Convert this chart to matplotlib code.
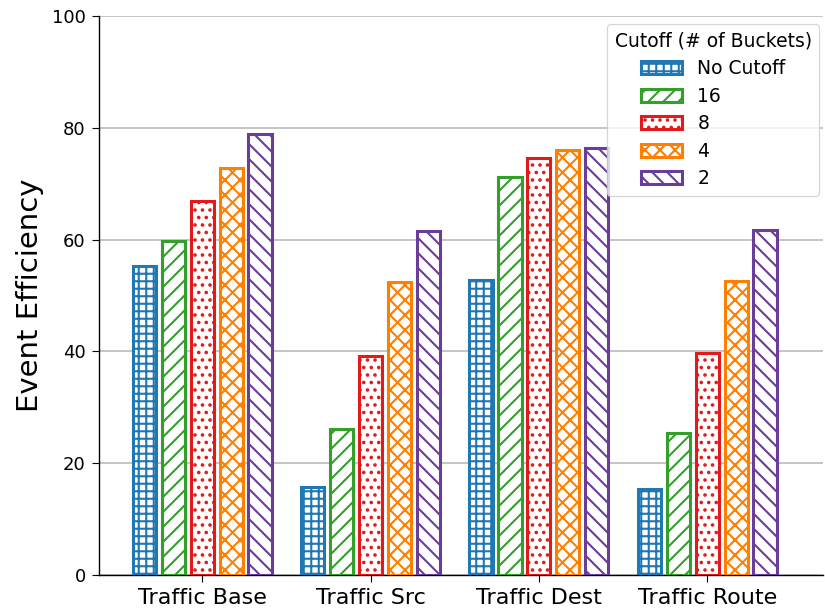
import numpy as np
import matplotlib.pyplot as plt

# -------------------------
# Data
# -------------------------

groups = ["Traffic Base", "Traffic Src", "Traffic Dest", "Traffic Route"]
cutoffs = ["No Cutoff", "16", "8", "4", "2"]

no_cutoff = [55.3, 15.7, 52.8, 15.4]
cut_16 = [59.7, 26.1, 71.2, 25.4]
cut_8 = [66.9, 39.2, 74.6, 39.7]
cut_4 = [72.8, 52.4, 76.0, 52.6]
cut_2 = [78.9, 61.5, 76.4, 61.7]

series = [no_cutoff, cut_16, cut_8, cut_4, cut_2]
colors = ["#1f78b4", "#33a02c", "#e31a1c", "#ff7f00", "#6a3d9a"]
hatches = ["++", "//", "..", "xx", "\\\\"]

# -------------------------
# Plot
# -------------------------

# render at 90 dpi (hatch spacing), keep sizes as if at 100 dpi
DPI = 90
s = 100 / DPI

plt.rcParams["hatch.linewidth"] = 1.5 * s

fig = plt.figure(figsize=(825 / DPI, 610 / DPI), dpi=DPI)
ax = fig.add_axes([0.12, 0.057, 0.878, 0.917])

x = np.arange(len(groups))
slot = 0.172
width = 0.138

for i, (vals, c, h, lab) in enumerate(zip(series, colors, hatches, cutoffs)):
    pos = x + (i - 2) * slot
    ax.bar(pos, vals, width, facecolor="white", edgecolor=c,
           hatch=h, linewidth=2.2 * s, label=lab, zorder=3)

ax.set_xticks(x)
ax.set_xticklabels(groups, fontsize=16 * s)
ax.set_xlim(-0.613, 3.69)
ax.set_ylim(0, 100)
ax.set_yticks(range(0, 101, 20))
ax.tick_params(axis="y", labelsize=13 * s)
ax.tick_params(length=5 * s, width=0.8 * s, pad=4.5 * s)
ax.set_ylabel("Event Efficiency", fontsize=21 * s, labelpad=6 * s)

ax.grid(axis="y", color="#bbbbbb", linewidth=1.2 * s, zorder=0)
ax.spines["top"].set_visible(False)
ax.spines["right"].set_visible(False)
ax.spines["left"].set_linewidth(1.0 * s)
ax.spines["bottom"].set_linewidth(1.0 * s)

leg = ax.legend(title="Cutoff (# of Buckets)", loc="upper right",
                fontsize=13.5 * s, title_fontsize=13.5 * s,
                handlelength=2.2, handleheight=0.7,
                labelspacing=0.45, framealpha=0.8,
                bbox_to_anchor=(0.997, 0.988), borderaxespad=0.1)
leg.set_zorder(5)

plt.savefig("out.png", dpi=DPI)
plt.close()
